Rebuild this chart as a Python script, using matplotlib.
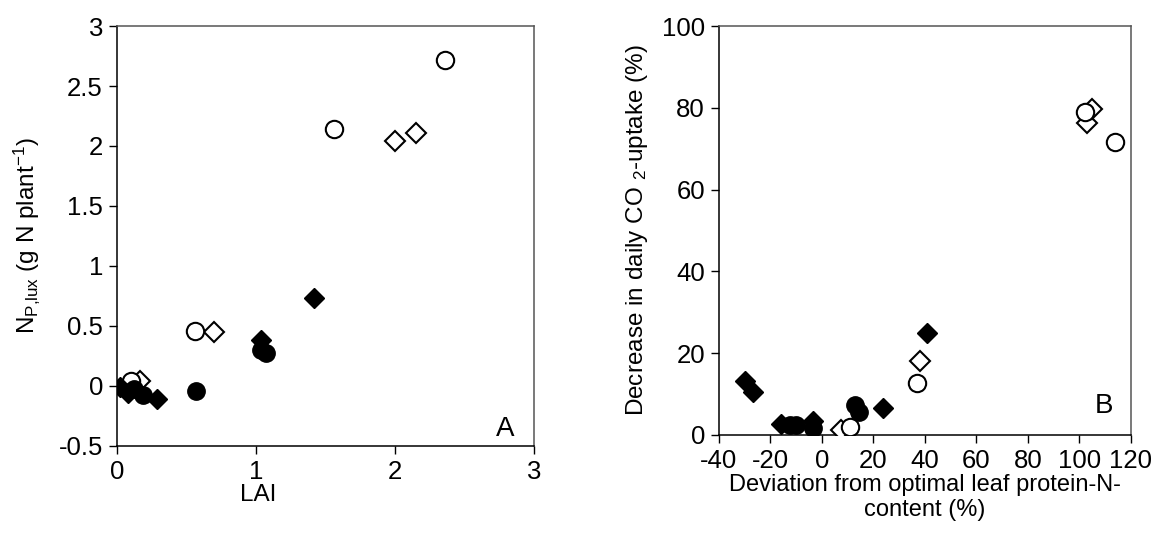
from __future__ import annotations

import matplotlib as mpl
import matplotlib.pyplot as plt

# Panel A: luxury N uptake vs LAI
lai_open_circle = [0.10, 0.56, 1.56, 2.36]
np_open_circle = [0.04, 0.46, 2.14, 2.72]
lai_open_diamond = [0.17, 0.70, 2.00, 2.15]
np_open_diamond = [0.04, 0.45, 2.04, 2.11]
lai_filled_circle = [0.12, 0.19, 0.57, 1.04, 1.07]
np_filled_circle = [-0.03, -0.08, -0.04, 0.30, 0.27]
lai_filled_diamond = [0.02, 0.08, 0.29, 1.04, 1.42]
np_filled_diamond = [-0.01, -0.06, -0.11, 0.38, 0.73]

# Panel B: decrease in CO2 uptake vs deviation from optimal leaf protein-N
dev_open_circle = [10.8, 37.0, 102.0, 113.7]
dec_open_circle = [2.0, 12.8, 79.0, 71.7]
dev_open_diamond = [7.5, 38.0, 103.1, 105.0]
dec_open_diamond = [1.2, 18.0, 76.2, 79.7]
dev_filled_circle = [-12.5, -10.0, -3.5, 12.7, 14.4]
dec_filled_circle = [2.4, 2.4, 1.6, 7.3, 5.7]
dev_filled_diamond = [-30.0, -26.8, -15.8, -3.5, 23.7, 40.7]
dec_filled_diamond = [13.3, 10.6, 2.7, 3.3, 6.5, 24.9]

A_XTICKS = [0, 1, 2, 3]
A_YTICKS = [-0.5, 0, 0.5, 1, 1.5, 2, 2.5, 3]
A_YTICKLABELS = ["-0.5", "0", "0.5", "1", "1.5", "2", "2.5", "3"]
B_XTICKS = [-40, -20, 0, 20, 40, 60, 80, 100, 120]
B_YTICKS = [0, 20, 40, 60, 80, 100]

TICK_SIZE = 18.5
LABEL_SIZE = 17.5
CIRCLE_SIZE = 12.5
DIAMOND_SIZE = 10.5
EDGE_WIDTH = 1.5


def setup_style() -> None:
    mpl.rcParams.update(
        {
            "font.family": ["Liberation Sans", "DejaVu Sans"],
            "mathtext.fontset": "custom",
            "mathtext.rm": "Liberation Sans",
            "mathtext.it": "Liberation Sans",
            "axes.unicode_minus": False,
            "xtick.direction": "out",
            "ytick.direction": "out",
            "xtick.major.size": 6,
            "ytick.major.size": 6,
            "xtick.major.width": 1.0,
            "ytick.major.width": 1.0,
            "axes.linewidth": 1.1,
        }
    )


def style_axes(ax) -> None:
    for side in ("top", "right"):
        ax.spines[side].set_color("#555555")
    ax.tick_params(top=False, right=False, labelsize=TICK_SIZE, pad=4)


def draw_series(ax, open_on_top, oc, od, fc, fd) -> None:
    z_open, z_filled = (4, 3) if open_on_top else (3, 4)
    ax.plot(*fd, "D", ms=DIAMOND_SIZE, mfc="black", mec="black", zorder=z_filled)
    ax.plot(*fc, "o", ms=CIRCLE_SIZE, mfc="black", mec="black", zorder=z_filled)
    ax.plot(*od, "D", ms=DIAMOND_SIZE, mfc="white", mec="black",
            mew=EDGE_WIDTH, zorder=z_open)
    ax.plot(*oc, "o", ms=CIRCLE_SIZE, mfc="white", mec="black",
            mew=EDGE_WIDTH, zorder=z_open)


setup_style()
fig = plt.figure(figsize=(11.57, 5.43), dpi=100)

ax_a = fig.add_axes([0.101, 0.179, 0.3605, 0.773])
draw_series(
    ax_a,
    open_on_top=False,
    oc=(lai_open_circle, np_open_circle),
    od=(lai_open_diamond, np_open_diamond),
    fc=(lai_filled_circle, np_filled_circle),
    fd=(lai_filled_diamond, np_filled_diamond),
)
ax_a.set_xlim(0, 3)
ax_a.set_ylim(-0.5, 3)
ax_a.set_xticks(A_XTICKS)
ax_a.set_yticks(A_YTICKS)
ax_a.set_yticklabels(A_YTICKLABELS)
ax_a.set_xlabel("LAI", fontsize=LABEL_SIZE)
ax_a.xaxis.set_label_coords(0.338, -0.09)
ax_a.set_ylabel(r"N$_{\mathrm{P{,}lux}}$ (g N plant$^{\mathrm{-1}}$)", fontsize=LABEL_SIZE)
ax_a.yaxis.set_label_coords(-0.18, 0.5)
ax_a.text(0.93, 0.04, "A", transform=ax_a.transAxes, fontsize=20,
          ha="center", va="center")
style_axes(ax_a)

ax_b = fig.add_axes([0.6214, 0.199, 0.3561, 0.753])
draw_series(
    ax_b,
    open_on_top=True,
    oc=(dev_open_circle, dec_open_circle),
    od=(dev_open_diamond, dec_open_diamond),
    fc=(dev_filled_circle, dec_filled_circle),
    fd=(dev_filled_diamond, dec_filled_diamond),
)
ax_b.set_xlim(-40, 120)
ax_b.set_ylim(0, 100)
ax_b.set_xticks(B_XTICKS)
ax_b.set_yticks(B_YTICKS)
ax_b.set_xlabel("Deviation from optimal leaf protein-N-\ncontent (%)",
                fontsize=17, linespacing=1.2)
ax_b.xaxis.set_label_coords(0.5, -0.095)
ax_b.set_ylabel(r"Decrease in daily CO $_{\mathrm{2}}$-uptake (%)", fontsize=LABEL_SIZE)
ax_b.yaxis.set_label_coords(-0.168, 0.5)
ax_b.text(0.934, 0.071, "B", transform=ax_b.transAxes, fontsize=20,
          ha="center", va="center")
style_axes(ax_b)

fig.savefig("out.png", dpi=100)
